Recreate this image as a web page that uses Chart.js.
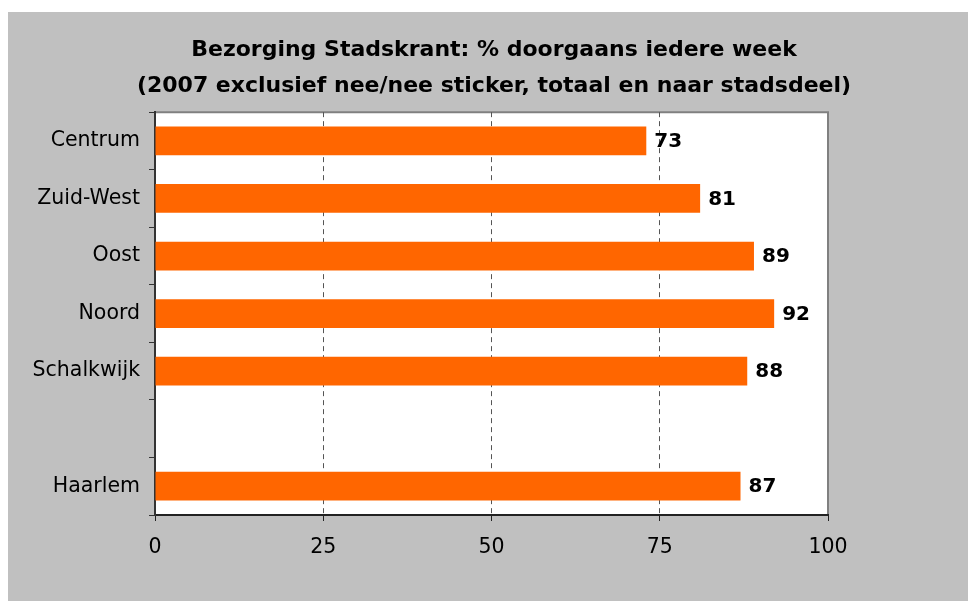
<!DOCTYPE html>
<html>
<head>
<meta charset="utf-8">
<script src="https://cdn.jsdelivr.net/npm/chart.js@4/dist/chart.umd.min.js"></script>
<style>
    html, body { margin: 0; padding: 0; background: #ffffff; }
    #frame { position: absolute; left: 8px; top: 12px; width: 960px; height: 589px; background: #c0c0c0; }
</style>
</head>
<body>
<div id="frame"><canvas id="chart" width="960" height="589"></canvas></div>
<script>
const categories = ['Centrum', 'Zuid-West', 'Oost', 'Noord', 'Schalkwijk', '', 'Haarlem'];
const percentages = [73, 81, 89, 92, 88, null, 87];
const titleLines = ['Bezorging Stadskrant: % doorgaans iedere week', '(2007 exclusief nee/nee sticker, totaal en naar stadsdeel)'];
const xTicks = [0, 25, 50, 75, 100];

const fontFamily = '"DejaVu Sans", Verdana, sans-serif';

// white plot area with a grey frame on top and right
const plotBackground = {
    id: 'plotBackground',
    beforeDraw: function (chart) {
        const a = chart.chartArea;
        const ctx = chart.ctx;
        ctx.save();
        ctx.fillStyle = '#ffffff';
        ctx.fillRect(a.left, a.top, a.right - a.left, a.bottom - a.top);
        ctx.strokeStyle = '#808080';
        ctx.lineWidth = 2;
        ctx.beginPath();
        ctx.moveTo(a.left, a.top);
        ctx.lineTo(a.right, a.top);
        ctx.lineTo(a.right, a.bottom);
        ctx.stroke();
        ctx.restore();
    }
};

// value next to the end of each bar
const barValues = {
    id: 'barValues',
    afterDatasetsDraw: function (chart) {
        const ctx = chart.ctx;
        const meta = chart.getDatasetMeta(0);
        ctx.save();
        ctx.font = 'bold 20px ' + fontFamily;
        ctx.fillStyle = '#000000';
        ctx.textAlign = 'left';
        ctx.textBaseline = 'middle';
        meta.data.forEach(function (bar, i) {
            if (percentages[i] === null) return;
            ctx.fillText(String(percentages[i]), bar.x + 8, bar.y + 1);
        });
        ctx.restore();
    }
};

new Chart(document.getElementById('chart'), {
    type: 'bar',
    data: {
        labels: categories,
        datasets: [
            {
                label: 'doorgaans iedere week',
                data: percentages,
                yAxisID: 'y',
                backgroundColor: '#ff6600',
                borderWidth: 0,
                barPercentage: 0.5,
                categoryPercentage: 1.0
            }
        ]
    },
    options: {
        indexAxis: 'y',
        responsive: false,
        animation: false,
        layout: {
            padding: { left: 12, right: 0, top: 0, bottom: 0 }
        },
        plugins: {
            legend: { display: false },
            tooltip: { enabled: false },
            title: {
                display: true,
                text: titleLines,
                color: '#000000',
                font: { family: fontFamily, size: 22, weight: 'bold', lineHeight: 1.64 },
                padding: { top: 20, bottom: 8 }
            }
        },
        scales: {
            x: {
                min: 0,
                max: 100,
                afterBuildTicks: function (scale) {
                    scale.ticks = xTicks.map(v => ({ value: v }));
                },
                afterFit: function (scale) {
                    scale.height = 86;
                },
                border: { display: true, color: '#222222', width: 2, dash: [5, 4] },
                grid: {
                    color: function (c) {
                        return (c.tick && c.tick.value > 0 && c.tick.value < 100) ? '#555555' : 'rgba(0,0,0,0)';
                    },
                    tickColor: '#222222',
                    tickBorderDash: [],
                    tickLength: 6,
                    lineWidth: 1
                },
                ticks: {
                    color: '#000000',
                    font: { family: fontFamily, size: 20.5 },
                    padding: 14,
                    maxRotation: 0
                }
            },
            y: {
                afterFit: function (scale) {
                    scale.width = 135;
                },
                border: { display: true, color: '#333333', width: 2 },
                grid: {
                    offset: true,
                    drawOnChartArea: false,
                    drawTicks: true,
                    tickLength: 6,
                    color: '#333333'
                },
                ticks: {
                    color: '#000000',
                    font: { family: fontFamily, size: 20.5 },
                    padding: 9
                }
            },
            // empty space right of the plot, so the title centres over the whole frame
            spacer: {
                type: 'linear',
                axis: 'y',
                position: 'right',
                display: true,
                afterFit: function (scale) {
                    scale.width = 140;
                },
                border: { display: false },
                grid: { display: false },
                ticks: { display: false }
            }
        }
    },
    plugins: [plotBackground, barValues]
});
</script>
</body>
</html>
